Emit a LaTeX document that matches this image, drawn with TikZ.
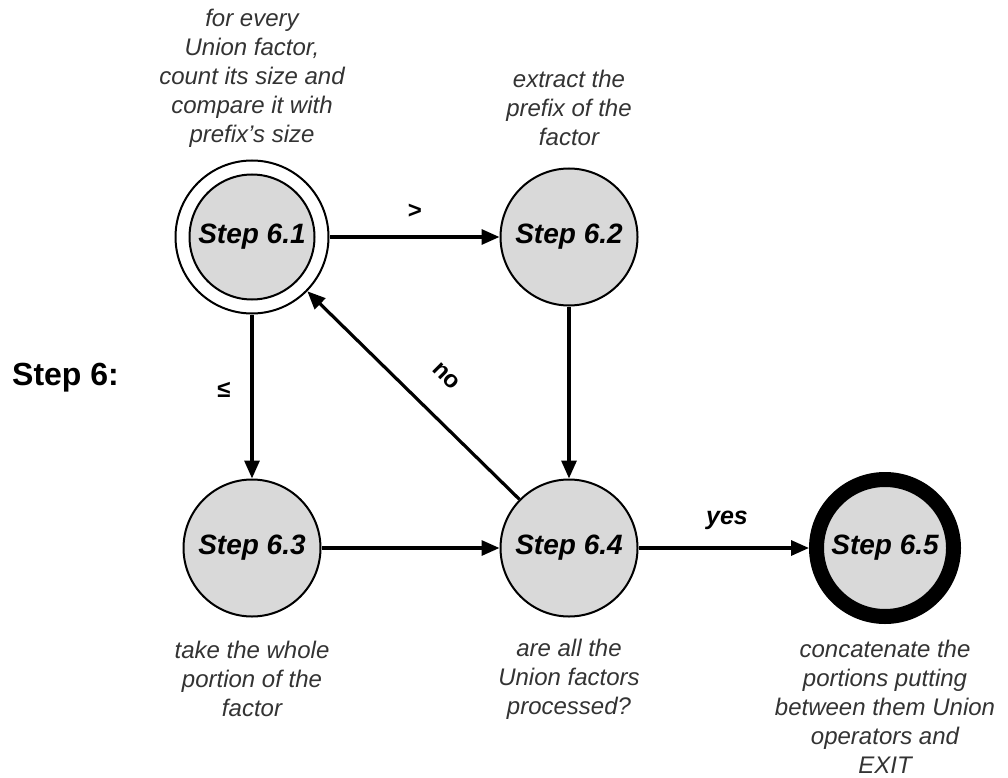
\documentclass[tikz,border=0pt]{standalone}
\usepackage{fontspec}
\setmainfont{Liberation Sans}
\usetikzlibrary{arrows.meta}
\begin{document}
\begin{tikzpicture}[x=1pt,y=-1pt,
  state/.style={circle, draw, line width=2pt, fill=gray!30, minimum size=137pt,
    inner sep=0pt, font=\fontsize{28}{30}\selectfont\bfseries\itshape},
  note/.style={align=center, font=\fontsize{24}{29}\selectfont\itshape, text=black!80},
  flow/.style={line width=3.2pt, -{Triangle[length=18pt,width=15pt]}},
  cond/.style={font=\fontsize{24}{28}\selectfont\bfseries}]
\useasboundingbox (0,0) rectangle (1008,778);

% states
\node[circle, draw, line width=2pt, minimum size=153pt, inner sep=0pt] (s1o) at (252,237) {};
\node[state, minimum size=125pt] (s1) at (252,237) {Step 6.1};
\node[state] (s2) at (569,237) {Step 6.2};
\node[state] (s3) at (252,548) {Step 6.3};
\node[state] (s4) at (569,548) {Step 6.4};
\node[state, line width=15pt] (s5) at (885,548) {Step 6.5};

% heading
\node[anchor=base west, inner sep=0pt, font=\fontsize{32}{36}\selectfont\bfseries] (head) at (12,385) {Step 6:};

% transitions
\draw[flow] (s1o) -- (s2);
\draw[flow] (s1o) -- (s3);
\draw[flow] (s2) -- (s4);
\draw[flow] (s3) -- (s4);
\draw[flow] (s4) -- (s1o);
\draw[flow] (s4) -- (s5);

% transition labels
\node[cond] (lgt) at (415,211) {>};
\node[cond] (lle) at (224,390) {≤};
\node[cond, rotate=-45] (lno) at (446,376) {no};
\node[cond, font=\fontsize{25}{28}\selectfont\bfseries\itshape] (lyes) at (727,520) {yes};

% descriptions
\node[note] (n1) at (252,78) {for every\\Union factor,\\count its size and\\compare it with\\prefix’s size};
\node[note] (n2) at (569,108) {extract the\\prefix of the\\factor};
\node[note] (n3) at (252,679) {take the whole\\portion of the\\factor};
\node[note] (n4) at (569,679) {are all the\\Union factors\\processed?};
\node[note] (n5) at (885,707) {concatenate the\\portions putting\\between them Union\\operators and\\EXIT};
\end{tikzpicture}
\end{document}
